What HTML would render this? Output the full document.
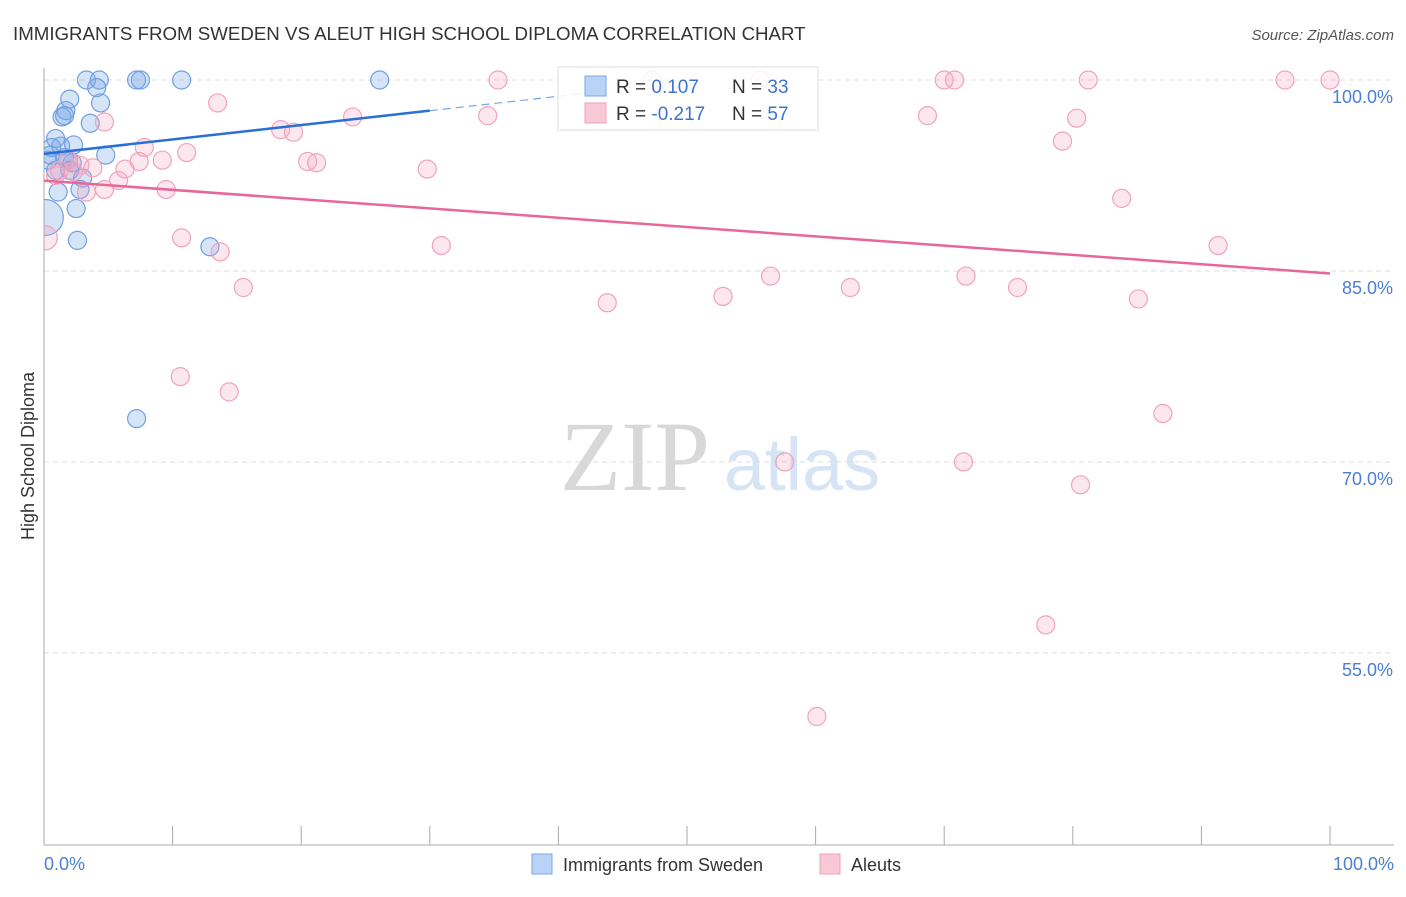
<!DOCTYPE html>
<html><head><meta charset="utf-8"><style>
body{margin:0;background:#fff;font-family:"Liberation Sans",sans-serif}
</style></head><body>
<svg id="chart" width="1406" height="892" xmlns="http://www.w3.org/2000/svg" font-family="Liberation Sans, sans-serif">
<defs><clipPath id="plotclip"><rect x="44" y="0" width="1362" height="845"/></clipPath></defs>
<text x="13" y="40" font-size="18.7" fill="#333">IMMIGRANTS FROM SWEDEN VS ALEUT HIGH SCHOOL DIPLOMA CORRELATION CHART</text>
<text x="1394" y="40" font-size="15" fill="#555" text-anchor="end" font-style="italic">Source: ZipAtlas.com</text>
<g>
<text x="635" y="490" font-size="100" fill="#d8d8d8" text-anchor="middle" style="font-family:'Liberation Serif',serif">ZIP</text>
<text x="802" y="490" font-size="74" fill="#d6e4f5" text-anchor="middle">atlas</text>
</g>
<g id="grid"></g>
<line x1="44" y1="68" x2="44" y2="845" stroke="#aaa"/>
<line x1="44" y1="845" x2="1394" y2="845" stroke="#aaa"/>
<g id="xticks"></g>
<g id="ylabels"></g>
<text transform="translate(34,456) rotate(-90)" font-size="18" fill="#333" text-anchor="middle">High School Diploma</text>
<text x="44" y="870" font-size="18" fill="#4a7fd4">0.0%</text>
<text x="1394" y="870" font-size="18" fill="#4a7fd4" text-anchor="end">100.0%</text>
<g id="points" clip-path="url(#plotclip)"></g>
<g id="lines"></g>
<g>
<rect x="558" y="67" width="260" height="63" fill="#fff" fill-opacity="0.85" stroke="#ddd"/>
<rect x="585" y="76" width="21" height="20" fill="#b9d3f7" stroke="#7aa6e6"/>
<rect x="585" y="103" width="21" height="20" fill="#f9c8d7" stroke="#f0a0b8"/>
<text x="616" y="93" font-size="19" fill="#333">R = <tspan fill="#3d73d0"> 0.107</tspan><tspan x="732">N = </tspan><tspan fill="#3d73d0">33</tspan></text>
<text x="616" y="120" font-size="19" fill="#333">R = <tspan fill="#3d73d0">-0.217</tspan><tspan x="732">N = </tspan><tspan fill="#3d73d0">57</tspan></text>
</g>
<g>
<rect x="532" y="854" width="20" height="20" fill="#b9d3f7" stroke="#7aa6e6"/>
<text x="563" y="871" font-size="18" fill="#333">Immigrants from Sweden</text>
<rect x="820" y="854" width="20" height="20" fill="#f9c8d7" stroke="#f0a0b8"/>
<text x="851" y="871" font-size="18" fill="#333">Aleuts</text>
</g>
</svg>
<script>
const yTicks=[100,85,70,55];
const xTickVals=[0,10,20,30,40,50,60,70,80,90,100];
const swedenX=[3.3,4.3,7.2,7.5,10.7,26.1,4.1,4.4,2.0,1.7,1.4,1.6,3.6,0.9,1.3,2.3,0.5,1.9,4.8,2.2,0.9,3.0,2.8,1.1,2.5,0.1,2.6,12.9,7.2,0.3,0.6,1.6,2.0];
const swedenY=[100,100,100,100,100,100,99.4,98.2,98.5,97.6,97.1,97.2,96.6,95.4,94.8,94.9,94.1,93.7,94.1,93.5,92.9,92.3,91.4,91.2,89.9,89.2,87.4,86.9,73.4,93.7,94.7,93.9,92.9];
const swedenR=[9,9,9,9,9,9,9,9,9,9,9,9,9,9,9,9,9,9,9,9,9,9,9,9,9,18,9,9,9,9,9,9,9];
const aleutX=[35.3,47.3,55.7,70.0,70.8,81.2,96.5,100,13.5,4.7,24.0,34.5,68.7,80.3,18.4,19.4,79.2,11.1,7.8,9.2,7.4,20.5,21.2,29.8,6.3,3.8,2.8,1.2,5.8,4.7,9.5,3.3,83.8,10.7,0.1,30.9,13.7,91.3,56.5,71.7,62.7,15.5,75.7,52.8,85.1,43.8,10.6,14.4,87.0,57.6,71.5,80.6,77.9,60.1,0.9,2.3,1.9];
const aleutY=[100,100,100,100,100,100,100,100,98.2,96.7,97.1,97.2,97.2,97.0,96.1,95.9,95.2,94.3,94.7,93.7,93.6,93.6,93.5,93.0,93.0,93.1,93.3,92.9,92.1,91.4,91.4,91.2,90.7,87.6,87.6,87.0,86.5,87.0,84.6,84.6,83.7,83.7,83.7,83.0,82.8,82.5,76.7,75.5,73.8,70.0,70.0,68.2,57.2,50.0,92.5,92.8,93.7];
const trendSweden=[94.2,0.113];
const trendAleut=[92.1,-0.073];
const NS="http://www.w3.org/2000/svg";
const X=v=>44+v*12.86, Y=v=>80+(100-v)*12.73;
function mk(t,a,p){const e=document.createElementNS(NS,t);for(const k in a)e.setAttribute(k,a[k]);document.getElementById(p).appendChild(e);return e;}
yTicks.forEach(t=>{
 const g=mk('line',{x1:44,x2:1394,y1:Y(t),y2:Y(t),stroke:'#ddd','stroke-dasharray':'5,4'},'grid');
 
 
 const l=mk('text',{x:1393,y:Y(t)+23,'font-size':18,fill:'#4a7fd4','text-anchor':'end'},'ylabels');
 l.textContent=t.toFixed(1)+'%';
 
 
});
xTickVals.forEach(t=>{
 const e=mk('line',{x1:X(t),x2:X(t),y1:826,y2:845,stroke:'#aaa'},'xticks');
 
 
});
swedenX.forEach((v,i)=>{
 const c=mk('circle',{cx:X(v),cy:Y(swedenY[i]),r:swedenR[i],fill:'rgba(120,165,230,0.3)',stroke:'#6f9fe3','stroke-width':1.2},'points');
 
 
});
aleutX.forEach((v,i)=>{
 const c=mk('circle',{cx:X(v),cy:Y(aleutY[i]),r:(i==34?12:9),fill:'rgba(245,160,190,0.25)',stroke:'#f0a3bb','stroke-width':1.2},'points');
 
 
});
const f=(t,x)=>t[0]+t[1]*x;
const b1=mk('line',{x1:X(0),y1:Y(f(trendSweden,0)),x2:X(30),y2:Y(f(trendSweden,30)),stroke:'#2a6fd6','stroke-width':2.5},'lines');


const b2=mk('line',{x1:X(30),y1:Y(f(trendSweden,30)),x2:X(42),y2:Y(f(trendSweden,42)),stroke:'#7aa6e6','stroke-width':1.2,'stroke-dasharray':'8,5'},'lines');


const p1=mk('line',{x1:X(0),y1:Y(f(trendAleut,0)),x2:X(100),y2:Y(f(trendAleut,100)),stroke:'#e8679a','stroke-width':2.5},'lines');


</script>
</body></html>
